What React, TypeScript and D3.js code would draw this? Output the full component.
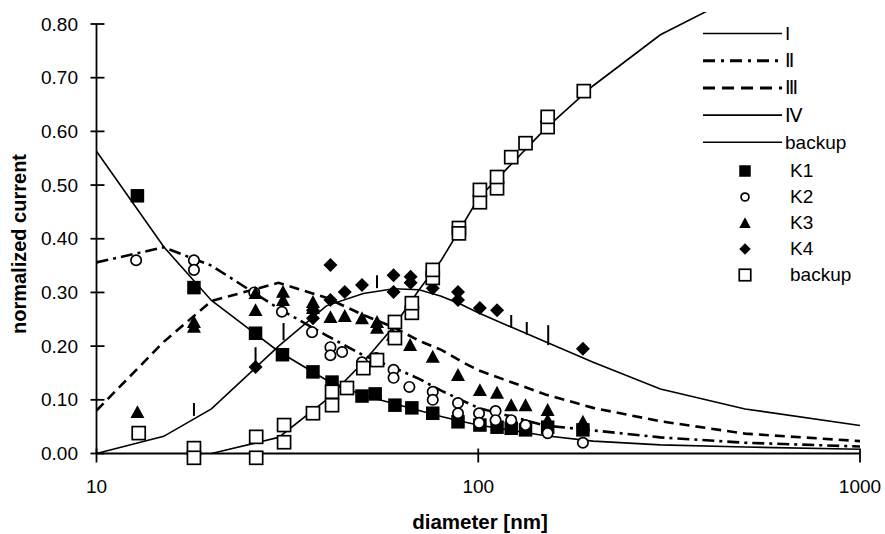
import React from "react";
import * as d3 from "d3";

// ---- model curves (diameter grid, normalized current) ----
const gridD = [10, 15, 20, 30, 40, 50, 60, 70, 80, 90, 100, 150, 200, 300, 500, 1000];
const lineI = [0.563, 0.385, 0.285, 0.19, 0.137, 0.108, 0.093, 0.08, 0.069, 0.06, 0.053, 0.033, 0.023, 0.016, 0.012, 0.008];
const lineII = [0.356, 0.384, 0.35, 0.27, 0.22, 0.183, 0.16, 0.139, 0.117, 0.1, 0.085, 0.052, 0.043, 0.03, 0.02, 0.013];
const lineIII = [0.08, 0.208, 0.284, 0.318, 0.29, 0.258, 0.235, 0.21, 0.193, 0.172, 0.155, 0.11, 0.085, 0.06, 0.037, 0.023];
const lineIV = [0, 0.032, 0.083, 0.2, 0.275, 0.298, 0.307, 0.305, 0.293, 0.278, 0.262, 0.208, 0.17, 0.12, 0.083, 0.052];
const backupD = [20, 30, 40, 50, 60, 70, 80, 90, 100, 150, 200, 300, 500, 1000];
const backupLine = [0, 0.03, 0.1, 0.17, 0.236, 0.305, 0.36, 0.42, 0.475, 0.605, 0.685, 0.78, 0.86, 0.95];

// ---- measured points [diameter, value] ----
const K1: [number, number][] = [
  [12.8, 0.48], [18.0, 0.309], [26.1, 0.224], [30.7, 0.184], [36.9, 0.152], [41.4, 0.133],
  [49.6, 0.107], [53.7, 0.111], [60.5, 0.09], [67, 0.085], [76, 0.075], [88.5, 0.059],
  [101, 0.053], [112, 0.049], [122, 0.047], [133, 0.044], [152, 0.049], [188, 0.044],
];
const K2: [number, number][] = [
  [12.7, 0.36], [18.0, 0.36], [18.0, 0.342], [25.9, 0.3], [30.6, 0.264], [36.7, 0.226],
  [41, 0.198], [41, 0.183], [44, 0.189], [49.6, 0.17], [54, 0.178], [60, 0.156], [60, 0.141],
  [66, 0.124], [76, 0.115], [76, 0.1], [88.5, 0.094], [88.5, 0.075], [100.5, 0.075], [100.5, 0.057],
  [111, 0.079], [111, 0.062], [122, 0.062], [133, 0.053], [152, 0.038], [188, 0.02],
];
const K3: [number, number][] = [
  [12.8, 0.077], [18.0, 0.245], [18.0, 0.236], [26.1, 0.299], [26.1, 0.267], [30.8, 0.301],
  [30.8, 0.286], [36.9, 0.282], [36.9, 0.271], [41, 0.254], [44.7, 0.256], [49.6, 0.252],
  [54.3, 0.245], [54.3, 0.234], [59.8, 0.221], [66.3, 0.202], [76, 0.18], [88.5, 0.146],
  [101, 0.118], [112, 0.113], [122, 0.09], [133, 0.09], [152, 0.081], [152, 0.062], [188, 0.059],
];
const K4: [number, number][] = [
  [26.1, 0.161], [36.9, 0.267], [36.9, 0.252], [41, 0.286], [41, 0.351], [44.7, 0.301],
  [49.6, 0.314], [60, 0.332], [60, 0.301], [66.5, 0.329], [66.5, 0.318], [76, 0.308],
  [88.5, 0.301], [88.5, 0.286], [101, 0.271], [112, 0.267], [188, 0.195],
];
const backupPts: [number, number][] = [
  [12.9, 0.038], [18.0, 0.01], [18.0, -0.008], [26.2, 0.031], [26.2, -0.008], [31, 0.053],
  [31, 0.021], [36.9, 0.075], [41.4, 0.09], [41.4, 0.115], [45.3, 0.122], [50, 0.159],
  [54.3, 0.174], [60.5, 0.215], [60.5, 0.245], [67, 0.262], [67, 0.28], [76, 0.327], [76, 0.342],
  [89, 0.42], [89, 0.41], [101, 0.468], [101, 0.491], [112, 0.494], [112, 0.515], [122, 0.552],
  [133, 0.578], [152, 0.608], [152, 0.627], [189, 0.675],
];
// vertical bars [diameter, low, high]
const bars: [number, number, number][] = [
  [18, 0.07, 0.094], [26.1, 0.169, 0.198], [30.9, 0.211, 0.243], [54.3, 0.308, 0.332],
  [122, 0.234, 0.258], [134, 0.221, 0.245], [152.5, 0.202, 0.239],
];

const yTicks = [0, 0.1, 0.2, 0.3, 0.4, 0.5, 0.6, 0.7, 0.8];
const xTicks = [10, 100, 1000];

const lineLegend = ["I", "Ⅱ", "Ⅲ", "Ⅳ", "backup"];
const markLegend = ["K1", "K2", "K3", "K4", "backup"];

const FONT = "'Liberation Sans', Arial, Helvetica, sans-serif";

const x = d3.scaleLog().domain([10, 1000]).range([96.5, 860]);
const y = d3.scaleLinear().domain([0, 0.8]).range([453.5, 24]);

const lineGen = d3
  .line<[number, number]>()
  .x((d) => x(d[0]))
  .y((d) => y(d[1]));

const zipD = (ds: number[], vs: number[]) => ds.map((d, i) => [d, vs[i]] as [number, number]);

const lineStyles = [
  { data: zipD(gridD, lineI), w: 1.6, dash: undefined },
  { data: zipD(gridD, lineII), w: 2.6, dash: "12,5,3,5" },
  { data: zipD(gridD, lineIII), w: 2.6, dash: "10,6" },
  { data: zipD(gridD, lineIV), w: 1.6, dash: undefined },
  { data: zipD(backupD, backupLine), w: 1.6, dash: undefined },
];

function Marker({ kind, cx, cy, s }: { kind: string; cx: number; cy: number; s: number }) {
  const h = s / 2;
  if (kind === "sq") return <rect x={cx - h} y={cy - h} width={s} height={s} fill="#000" />;
  if (kind === "osq")
    return <rect x={cx - h} y={cy - h} width={s} height={s} fill="#fff" stroke="#000" strokeWidth={1.7} />;
  if (kind === "circ") return <circle cx={cx} cy={cy} r={h - 0.8} fill="#fff" stroke="#000" strokeWidth={1.7} />;
  if (kind === "tri")
    return <path d={`M${cx},${cy - h}L${cx + h},${cy + h * 0.85}L${cx - h},${cy + h * 0.85}Z`} fill="#000" />;
  return <path d={`M${cx},${cy - h}L${cx + h},${cy}L${cx},${cy + h}L${cx - h},${cy}Z`} fill="#000" />;
}

const markerSeries: { data: [number, number][]; kind: string; s: number }[] = [
  { data: K1, kind: "sq", s: 13.5 },
  { data: K2, kind: "circ", s: 12 },
  { data: K3, kind: "tri", s: 14 },
  { data: K4, kind: "dia", s: 14 },
  { data: backupPts, kind: "osq", s: 13 },
];

export default function App() {
  const x0 = 96.5, x1 = 860, yb = 453.5, yt = 24;
  return (
    <svg width={885} height={534} style={{ position: "absolute", left: 0, top: 0, background: "#fff" }} fontFamily={FONT}>
      <defs>
        <clipPath id="plotclip">
          <rect x={x0} y={12} width={x1 - x0 + 2} height={470} />
        </clipPath>
      </defs>
      <rect x={0} y={0} width={885} height={534} fill="#fff" />

      {/* curves */}
      <g clipPath="url(#plotclip)" fill="none" stroke="#000">
        {lineStyles.map((l, i) => (
          <path key={i} d={lineGen(l.data) || ""} strokeWidth={l.w} strokeDasharray={l.dash} />
        ))}
      </g>

      {/* legend background */}
      <rect x={697} y={20} width={170} height={270} fill="#fff" />

      {/* axes */}
      <g stroke="#000" strokeWidth={1.8}>
        <line x1={x0} y1={yt} x2={x0} y2={yb} />
        <line x1={x0} y1={yb} x2={x1} y2={yb} />
        {yTicks.map((t) => (
          <line key={t} x1={x0 - 6} x2={x0 + 8} y1={y(t)} y2={y(t)} />
        ))}
        {xTicks.map((t) => (
          <line key={t} x1={x(t)} x2={x(t)} y1={yb - 5} y2={yb + 9} />
        ))}
      </g>

      {/* vertical bars */}
      <g stroke="#000" strokeWidth={2}>
        {bars.map((b, i) => (
          <line key={i} x1={x(b[0])} x2={x(b[0])} y1={y(b[1])} y2={y(b[2])} />
        ))}
      </g>

      {/* markers */}
      {markerSeries.map((ser, si) => (
        <g key={si}>
          {ser.data.map((p, i) => (
            <Marker key={i} kind={ser.kind} cx={x(p[0])} cy={y(p[1])} s={ser.s} />
          ))}
        </g>
      ))}

      {/* tick labels */}
      <g fontSize={19} fill="#000">
        {yTicks.map((t) => (
          <text key={t} x={78} y={y(t) + 6.5} textAnchor="end">
            {t.toFixed(2)}
          </text>
        ))}
        {xTicks.map((t) => (
          <text key={t} x={x(t)} y={493} textAnchor="middle">
            {String(t)}
          </text>
        ))}
      </g>

      {/* axis titles */}
      <text x={480} y={529} textAnchor="middle" fontWeight="bold" fontSize={20.5}>
        diameter [nm]
      </text>
      <text transform="translate(25.5,244) rotate(-90)" textAnchor="middle" fontWeight="bold" fontSize={20}>
        normalized current
      </text>

      {/* legend */}
      <g fontSize={19}>
        {lineLegend.map((lab, i) => {
          const ly = 33.5 + i * 27.2;
          const st = lineStyles[i];
          return (
            <g key={i}>
              <line x1={703} x2={782} y1={ly} y2={ly} stroke="#000" strokeWidth={st.dash ? 3 : 1.6} strokeDasharray={st.dash ? (i === 1 ? "12,6,3,6" : "12,7") : undefined} />
              <text x={785} y={ly + 6.5}>{lab}</text>
            </g>
          );
        })}
        {markLegend.map((lab, i) => {
          const ly = 171 + i * 26;
          const ms = markerSeries[i];
          return (
            <g key={i}>
              <Marker kind={ms.kind} cx={745} cy={ly} s={ms.kind === "circ" ? 9.5 : 11.5} />
              <text x={790} y={ly + 6}>{lab}</text>
            </g>
          );
        })}
      </g>
    </svg>
  );
}
